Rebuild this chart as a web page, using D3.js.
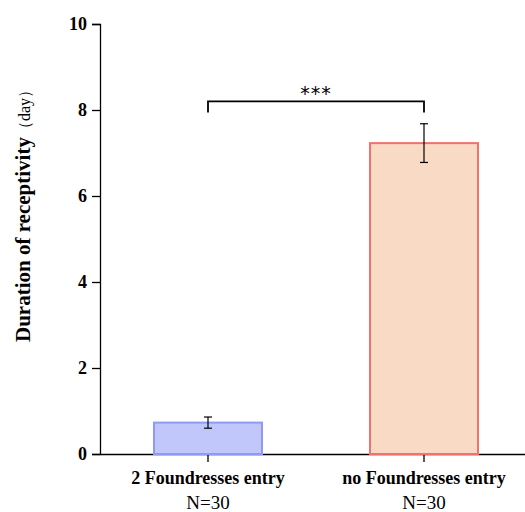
<!DOCTYPE html>
<meta charset="utf-8" />
<script src="https://d3js.org/d3.v7.min.js"></script>
<body style="margin:0;background:#fff">
<svg id="chart" width="525" height="512" style="font-family:'Liberation Serif','Times New Roman',serif"></svg>
<script>
/* data */
const groups = ["2 Foundresses entry", "no Foundresses entry"];
const sampleN = ["N=30", "N=30"];
const means = [0.73, 7.23];
const errs = [0.13, 0.45];
const fills = ["#c1c7fb", "#f9dac4"];
const strokes = ["#8e9af6", "#f2716d"];
const yTicks = [0, 2, 4, 6, 8, 10];
const sig = "***";

const svg = d3.select("#chart"),
      font = "'Liberation Serif','Times New Roman',serif";
const x0 = 100, x1 = 532, yTop = 24, yBot = 454;

const y = d3.scaleLinear().domain([0, 10]).range([yBot, yTop]);
const x = d3.scaleBand().domain(groups).range([x0, x1]).paddingInner(0.5).paddingOuter(0.25);

/* y axis */
const gy = svg.append("g").attr("transform", `translate(${x0},0)`)
  .call(d3.axisLeft(y).tickValues(yTicks).tickSize(8).tickPadding(5).tickFormat(d3.format("d")));
gy.attr("font-family", font);
gy.select(".domain").attr("stroke", "#000").attr("stroke-width", 1.3);
gy.selectAll(".tick line").attr("stroke-width", 1.3);
gy.selectAll("text").style("font-family", font).attr("font-size", 18).attr("font-weight", "bold").attr("fill", "#000");

/* x axis */
const gx = svg.append("g").attr("transform", `translate(0,${yBot})`)
  .call(d3.axisBottom(x).tickSize(8).tickSizeOuter(0).tickFormat(""));
gx.select(".domain").attr("stroke-width", 1.3);
gx.selectAll(".tick line").attr("stroke-width", 1.3);

/* bars */
const bw = 108;
svg.selectAll("rect.bar").data(groups).join("rect")
  .attr("class", "bar")
  .attr("x", d => x(d) + x.bandwidth()/2 - bw/2)
  .attr("width", bw)
  .attr("y", (d,i) => y(means[i]))
  .attr("height", (d,i) => yBot - y(means[i]))
  .attr("fill", (d,i) => fills[i])
  .attr("stroke", (d,i) => strokes[i])
  .attr("stroke-width", 2);

/* error bars */
const eb = svg.append("g").attr("stroke", "#000").attr("stroke-width", 1.2);
groups.forEach((g, i) => {
  const cx = x(g) + x.bandwidth()/2, hi = y(means[i] + errs[i]), lo = y(means[i] - errs[i]);
  eb.append("line").attr("x1", cx).attr("x2", cx).attr("y1", hi).attr("y2", lo);
  eb.append("line").attr("x1", cx-4).attr("x2", cx+4).attr("y1", hi).attr("y2", hi);
  eb.append("line").attr("x1", cx-4).attr("x2", cx+4).attr("y1", lo).attr("y2", lo);
});

/* category labels */
groups.forEach((g, i) => {
  const cx = x(g) + x.bandwidth()/2;
  svg.append("text").attr("x", cx).attr("y", 484).attr("text-anchor", "middle")
    .style("font-family", font).attr("font-size", 18).attr("font-weight", "bold").text(g);
  svg.append("text").attr("x", cx).attr("y", 509).attr("text-anchor", "middle")
    .style("font-family", font).attr("font-size", 19).text(sampleN[i]);
});

/* significance bracket */
const bx1 = x(groups[0]) + x.bandwidth()/2, bx2 = x(groups[1]) + x.bandwidth()/2, by = y(8.2);
svg.append("path").attr("fill", "none").attr("stroke", "#000").attr("stroke-width", 1.8)
  .attr("d", `M${bx1},${by+11}V${by}H${bx2}V${by+11}`);
svg.append("text").attr("x", (bx1+bx2)/2).attr("y", by - 1).attr("text-anchor", "middle")
  .style("font-family", "'DejaVu Sans',sans-serif").attr("font-size", 19).attr("letter-spacing", 1).text(sig);

/* y title */
const yt = svg.append("text").attr("transform", "translate(30,212) rotate(-90)")
  .attr("text-anchor", "middle").style("font-family", font).attr("fill", "#000");
yt.append("tspan").attr("font-size", 21).attr("font-weight", "bold").text("Duration of receptivity");
yt.append("tspan").attr("font-size", 16).text("（day）");
</script>
</body>
